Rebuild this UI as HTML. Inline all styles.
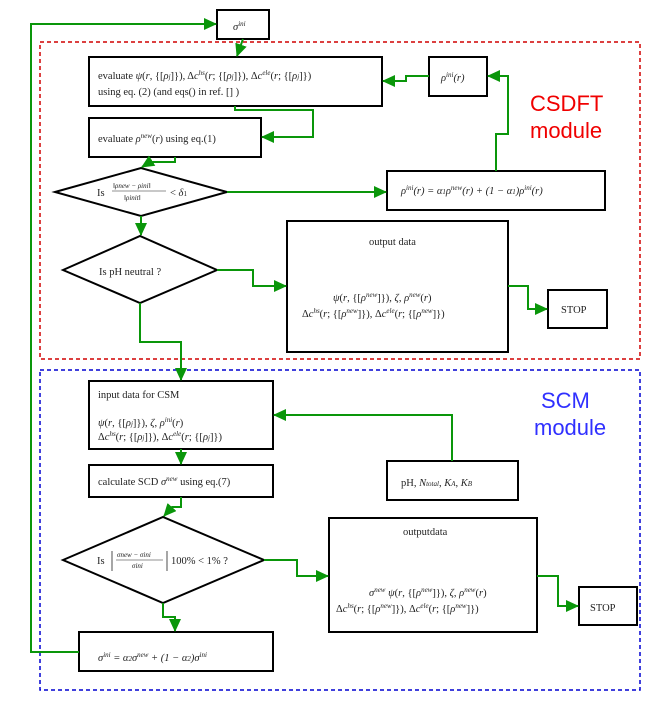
<!DOCTYPE html>
<html><head><meta charset="utf-8"><style>
html,body{margin:0;padding:0;background:#fff;}
svg{display:block;}
text{font-family:"Liberation Serif",serif;font-size:10.5px;fill:#222;}
.i{font-style:italic;}
.s{font-size:7px;}
</style></head><body>
<svg width="667" height="708" viewBox="0 0 667 708" xmlns="http://www.w3.org/2000/svg">
<defs>
<marker id="a" markerWidth="13" markerHeight="12" refX="12" refY="6" orient="auto" markerUnits="userSpaceOnUse">
<path d="M0,0 L13,6 L0,12 z" fill="#0a960a"/></marker>
</defs>
<rect x="40" y="42" width="600" height="317" fill="none" stroke="#d00000" stroke-width="1.5" stroke-dasharray="4,3"/>
<rect x="40" y="370" width="600" height="320" fill="none" stroke="#0000d0" stroke-width="1.5" stroke-dasharray="4,3"/>
<text x="530" y="111" style="font-family:'Liberation Sans',sans-serif;font-size:22px;fill:#f00000">CSDFT</text>
<text x="530" y="138" style="font-family:'Liberation Sans',sans-serif;font-size:22px;fill:#f00000">module</text>
<text x="541" y="408" style="font-family:'Liberation Sans',sans-serif;font-size:22px;fill:#3030ff">SCM</text>
<text x="534" y="435" style="font-family:'Liberation Sans',sans-serif;font-size:22px;fill:#3030ff">module</text>

<g fill="#fff" stroke="#000" stroke-width="2">
<rect x="217" y="10" width="52" height="29"/>
<rect x="89" y="57" width="293" height="49"/>
<rect x="429" y="57" width="58" height="39"/>
<rect x="89" y="118" width="172" height="39"/>
<polygon points="55,192 141,168 227,192 141,216"/>
<rect x="387" y="171" width="218" height="39"/>
<polygon points="63,270 140,236 217,270 140,303"/>
<rect x="287" y="221" width="221" height="131"/>
<rect x="548" y="290" width="59" height="38"/>
<rect x="89" y="381" width="184" height="68"/>
<rect x="89" y="465" width="184" height="32"/>
<rect x="387" y="461" width="131" height="39"/>
<polygon points="63,560 163,517 264,560 163,603"/>
<rect x="329" y="518" width="208" height="114"/>
<rect x="579" y="587" width="58" height="38"/>
<rect x="79" y="632" width="194" height="39"/>
</g>

<g fill="none" stroke="#0a960a" stroke-width="2">
<polyline points="79,652 31,652 31,24 216,24" marker-end="url(#a)"/>
<polyline points="243,39 237,56" marker-end="url(#a)"/>
<polyline points="235,106 235,110 313,110 313,137 262,137" marker-end="url(#a)"/>
<polyline points="175,157 175,162 150,162 142,167" marker-end="url(#a)"/>
<polyline points="227,192 386,192" marker-end="url(#a)"/>
<polyline points="496,171 496,134 508,134 508,76 488,76" marker-end="url(#a)"/>
<polyline points="429,76 406,76 406,81 383,81" marker-end="url(#a)"/>
<polyline points="141,216 141,235" marker-end="url(#a)"/>
<polyline points="217,270 253,270 253,286 286,286" marker-end="url(#a)"/>
<polyline points="508,286 528,286 528,309 547,309" marker-end="url(#a)"/>
<polyline points="140,303 140,342 181,342 181,380" marker-end="url(#a)"/>
<polyline points="452,461 452,415 274,415" marker-end="url(#a)"/>
<polyline points="181,449 181,464" marker-end="url(#a)"/>
<polyline points="181,497 181,507 172,507 164,516" marker-end="url(#a)"/>
<polyline points="264,560 297,560 297,576 328,576" marker-end="url(#a)"/>
<polyline points="537,576 558,576 558,606 578,606" marker-end="url(#a)"/>
<polyline points="163,603 163,617 175,617 175,631" marker-end="url(#a)"/>
</g>

<text x="233" y="30" class="i">σ<tspan dy="-4" class="s">ini</tspan></text>
<text x="98" y="79">evaluate <tspan class="i">ψ</tspan>(<tspan class="i">r</tspan>, {[<tspan class="i">ρ</tspan><tspan class="s i">j</tspan>]}), Δ<tspan class="i">c</tspan><tspan class="s i" dy="-4">hs</tspan><tspan dy="4">(</tspan><tspan class="i">r</tspan>; {[<tspan class="i">ρ</tspan><tspan class="s i">j</tspan>]}), Δ<tspan class="i">c</tspan><tspan class="s i" dy="-4">ele</tspan><tspan dy="4">(</tspan><tspan class="i">r</tspan>; {[<tspan class="i">ρ</tspan><tspan class="s i">j</tspan>]})</text>
<text x="98" y="95">using eq. (2) (and eqs() in ref. [] )</text>
<text x="441" y="81" class="i">ρ<tspan class="s" dy="-4">ini</tspan><tspan dy="4">(r)</tspan></text>
<text x="98" y="142">evaluate <tspan class="i">ρ</tspan><tspan class="s i" dy="-4">new</tspan><tspan dy="4">(</tspan><tspan class="i">r</tspan>) using eq.(1)</text>
<text x="97" y="196">Is</text>
<text x="113" y="188" class="s i">‖ρnew − ρini‖</text>
<line x1="112" y1="191" x2="166" y2="191" stroke="#222" stroke-width="0.6"/>
<text x="124" y="200" class="s i">‖ρinit‖</text>
<text x="170" y="196">&lt; <tspan class="i">δ</tspan><tspan class="s">1</tspan></text>
<text x="401" y="194" class="i">ρ<tspan class="s" dy="-4">ini</tspan><tspan dy="4">(r) = α</tspan><tspan class="s">1</tspan>ρ<tspan class="s" dy="-4">new</tspan><tspan dy="4">(r) + (1 − α</tspan><tspan class="s">1</tspan>)ρ<tspan class="s" dy="-4">ini</tspan><tspan dy="4">(r)</tspan></text>
<text x="99" y="275">Is pH neutral ?</text>
<text x="369" y="245">output data</text>
<text x="333" y="301"><tspan class="i">ψ</tspan>(<tspan class="i">r</tspan>, {[<tspan class="i">ρ</tspan><tspan class="s i" dy="-4">new</tspan><tspan dy="4">]}), </tspan><tspan class="i">ζ</tspan>, <tspan class="i">ρ</tspan><tspan class="s i" dy="-4">new</tspan><tspan dy="4">(</tspan><tspan class="i">r</tspan>)</text>
<text x="302" y="317">Δ<tspan class="i">c</tspan><tspan class="s i" dy="-4">hs</tspan><tspan dy="4">(</tspan><tspan class="i">r</tspan>; {[<tspan class="i">ρ</tspan><tspan class="s i" dy="-4">new</tspan><tspan dy="4">]}), Δ</tspan><tspan class="i">c</tspan><tspan class="s i" dy="-4">ele</tspan><tspan dy="4">(</tspan><tspan class="i">r</tspan>; {[<tspan class="i">ρ</tspan><tspan class="s i" dy="-4">new</tspan><tspan dy="4">]})</tspan></text>
<text x="561" y="313">STOP</text>

<text x="98" y="398">input data for CSM</text>
<text x="98" y="426"><tspan class="i">ψ</tspan>(<tspan class="i">r</tspan>, {[<tspan class="i">ρ</tspan><tspan class="s i">j</tspan>]}), <tspan class="i">ζ</tspan>, <tspan class="i">ρ</tspan><tspan class="s i" dy="-4">ini</tspan><tspan dy="4">(</tspan><tspan class="i">r</tspan>)</text>
<text x="98" y="440">Δ<tspan class="i">c</tspan><tspan class="s i" dy="-4">hs</tspan><tspan dy="4">(</tspan><tspan class="i">r</tspan>; {[<tspan class="i">ρ</tspan><tspan class="s i">j</tspan>]}), Δ<tspan class="i">c</tspan><tspan class="s i" dy="-4">ele</tspan><tspan dy="4">(</tspan><tspan class="i">r</tspan>; {[<tspan class="i">ρ</tspan><tspan class="s i">j</tspan>]})</text>
<text x="98" y="485">calculate SCD <tspan class="i">σ</tspan><tspan class="s i" dy="-4">new</tspan><tspan dy="4"> using eq.(7)</tspan></text>
<text x="401" y="486">pH, <tspan class="i">N</tspan><tspan class="s i">total</tspan>, <tspan class="i">K</tspan><tspan class="s i">A</tspan>, <tspan class="i">K</tspan><tspan class="s i">B</tspan></text>
<text x="97" y="564">Is</text>
<line x1="112" y1="551" x2="112" y2="571" stroke="#222" stroke-width="0.8"/>
<text x="117" y="557" class="s i">σnew − σini</text>
<line x1="116" y1="560" x2="163" y2="560" stroke="#222" stroke-width="0.6"/>
<text x="132" y="568" class="s i">σini</text>
<line x1="167" y1="551" x2="167" y2="571" stroke="#222" stroke-width="0.8"/>
<text x="171" y="564">100% &lt; 1% ?</text>
<text x="403" y="535">outputdata</text>
<text x="369" y="596"><tspan class="i">σ</tspan><tspan class="s i" dy="-4">new</tspan><tspan dy="4"> </tspan><tspan class="i">ψ</tspan>(<tspan class="i">r</tspan>, {[<tspan class="i">ρ</tspan><tspan class="s i" dy="-4">new</tspan><tspan dy="4">]}), </tspan><tspan class="i">ζ</tspan>, <tspan class="i">ρ</tspan><tspan class="s i" dy="-4">new</tspan><tspan dy="4">(</tspan><tspan class="i">r</tspan>)</text>
<text x="336" y="612">Δ<tspan class="i">c</tspan><tspan class="s i" dy="-4">hs</tspan><tspan dy="4">(</tspan><tspan class="i">r</tspan>; {[<tspan class="i">ρ</tspan><tspan class="s i" dy="-4">new</tspan><tspan dy="4">]}), Δ</tspan><tspan class="i">c</tspan><tspan class="s i" dy="-4">ele</tspan><tspan dy="4">(</tspan><tspan class="i">r</tspan>; {[<tspan class="i">ρ</tspan><tspan class="s i" dy="-4">new</tspan><tspan dy="4">]})</tspan></text>
<text x="590" y="611">STOP</text>
<text x="98" y="661" class="i">σ<tspan class="s" dy="-4">ini</tspan><tspan dy="4"> = α</tspan><tspan class="s">2</tspan>σ<tspan class="s" dy="-4">new</tspan><tspan dy="4"> + (1 − α</tspan><tspan class="s">2</tspan>)σ<tspan class="s" dy="-4">ini</tspan></text>
</svg>
</body></html>
